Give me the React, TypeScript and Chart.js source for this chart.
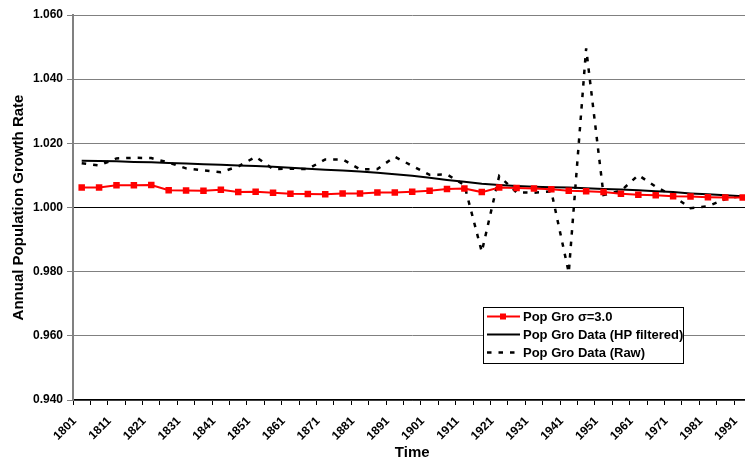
import React, { useEffect, useRef } from 'react';
import { Chart, registerables } from 'chart.js';

Chart.register(...registerables);

const years = [
  '1801', '1806', '1811', '1816', '1821', '1826', '1831', '1836', '1841', '1846',
  '1851', '1856', '1861', '1866', '1871', '1876', '1881', '1886', '1891', '1896',
  '1901', '1906', '1911', '1916', '1921', '1926', '1931', '1936', '1941', '1946',
  '1951', '1956', '1961', '1966', '1971', '1976', '1981', '1986', '1991',
];

const popGroSigma = [
  1.0062, 1.0062, 1.0069, 1.0069, 1.0070, 1.0054, 1.0053, 1.0052, 1.0055, 1.0048,
  1.0049, 1.0046, 1.0043, 1.0042, 1.0041, 1.0044, 1.0044, 1.0047, 1.0047, 1.0049,
  1.0052, 1.0058, 1.0059, 1.0048, 1.0062, 1.0061, 1.0059, 1.0057, 1.0052, 1.0051,
  1.0048, 1.0043, 1.0040, 1.0038, 1.0035, 1.0034, 1.0032, 1.0031, 1.0031,
];

const popGroHP = [
  1.0146, 1.0145, 1.0144, 1.0142, 1.0141, 1.0139, 1.0137, 1.0135, 1.0133, 1.0131,
  1.0129, 1.0127, 1.0124, 1.0121, 1.0118, 1.0115, 1.0112, 1.0108, 1.0104, 1.0099,
  1.0093, 1.0086, 1.0080, 1.0074, 1.0070, 1.0067, 1.0065, 1.0063, 1.0062, 1.0060,
  1.0058, 1.0056, 1.0054, 1.0051, 1.0048, 1.0044, 1.0041, 1.0038, 1.0035,
];

const popGroRaw = [
  1.0138, 1.0131, 1.0153, 1.0155, 1.0154, 1.0140, 1.0122, 1.0116, 1.0110, 1.0128,
  1.0158, 1.0120, 1.0121, 1.0120, 1.0150, 1.0150, 1.0119, 1.0120, 1.0158, 1.0130,
  1.0102, 1.0103, 1.0070, 0.9862, 1.0098, 1.0047, 1.0046, 1.0050, 0.9797, 1.0496,
  1.0039, 1.0052, 1.0101, 1.0065, 1.0036, 0.9998, 1.0004, 1.0026, 1.0037,
];

const seriesLabels = ['Pop Gro σ=3.0', 'Pop Gro Data (HP filtered)', 'Pop Gro Data (Raw)'];
const yMin = 0.94;
const yMax = 1.06;
const yStep = 0.02;

const FONT = "'Liberation Sans', Arial, sans-serif";

const boxLegend = {
  id: 'boxLegend',
  afterDatasetsDraw(chart: any) {
    const ctx = chart.ctx as CanvasRenderingContext2D;
    const bx = 483.5, by = 307.5, bw = 200, bh = 56;
    ctx.save();
    ctx.fillStyle = '#ffffff';
    ctx.fillRect(bx, by, bw, bh);
    ctx.strokeStyle = '#000000';
    ctx.lineWidth = 1;
    ctx.setLineDash([]);
    ctx.strokeRect(bx, by, bw, bh);
    chart.data.datasets.forEach((ds: any, i: number) => {
      const y = 316.5 + i * 18;
      ctx.strokeStyle = ds.borderColor;
      ctx.lineWidth = ds.borderWidth;
      ctx.setLineDash(ds.borderDash || []);
      ctx.beginPath();
      ctx.moveTo(487, y);
      ctx.lineTo(520, y);
      ctx.stroke();
      ctx.setLineDash([]);
      if (ds.pointRadius > 0) {
        ctx.fillStyle = ds.pointBackgroundColor;
        ctx.fillRect(500, y - 3, 6, 6);
      }
      ctx.fillStyle = '#000000';
      ctx.font = `bold 13px ${FONT}`;
      ctx.textBaseline = 'middle';
      ctx.textAlign = 'left';
      ctx.fillText(ds.label, 523, y + 0.5);
    });
    ctx.restore();
  },
};

export default function App() {
  const canvasRef = useRef<HTMLCanvasElement | null>(null);

  useEffect(() => {
    const canvas = canvasRef.current;
    if (!canvas) return;
    const chart = new Chart(canvas, {
      type: 'line',
      data: {
        labels: years,
        datasets: [
          {
            label: seriesLabels[0],
            data: popGroSigma,
            borderColor: '#ff0000',
            backgroundColor: '#ff0000',
            pointBackgroundColor: '#ff0000',
            pointBorderColor: '#ff0000',
            pointStyle: 'rect',
            pointRadius: 4.6,
            pointBorderWidth: 0,
            borderWidth: 2,
            tension: 0,
            fill: false,
          },
          {
            label: seriesLabels[1],
            data: popGroHP,
            borderColor: '#000000',
            backgroundColor: '#000000',
            pointRadius: 0,
            borderWidth: 2,
            tension: 0,
            fill: false,
          },
          {
            label: seriesLabels[2],
            data: popGroRaw,
            borderColor: '#000000',
            backgroundColor: '#000000',
            pointRadius: 0,
            borderWidth: 2.5,
            borderDash: [4.5, 7],
            tension: 0,
            fill: false,
          },
        ],
      },
      options: {
        responsive: false,
        animation: false,
        devicePixelRatio: 1,
        layout: { padding: { top: 15, right: 8.6, left: 0, bottom: 0 } },
        plugins: {
          legend: { display: false },
          tooltip: { enabled: false },
        },
        scales: {
          x: {
            type: 'category',
            offset: true,
            grid: {
              offset: true,
              drawOnChartArea: false,
              drawTicks: true,
              tickLength: 5,
              tickColor: '#000000',
              tickWidth: 1,
            },
            border: { display: true, color: '#000000', width: 1.5 },
            ticks: {
              autoSkip: false,
              minRotation: 45,
              maxRotation: 45,
              padding: 2,
              color: '#000000',
              font: { family: FONT, size: 12, weight: 'bold' },
              callback: (_v: any, i: number) => (i % 2 === 0 ? years[i] + '   ' : ''),
            },
            title: {
              display: true,
              text: 'Time',
              color: '#000000',
              font: { family: FONT, size: 15, weight: 'bold' },
              padding: { top: 0, bottom: 0 },
            },
            afterFit: (scale: any) => {
              scale.height = 62;
            },
          },
          y: {
            min: yMin,
            max: yMax,
            grid: {
              color: (c: any) =>
                c.tick && Math.abs(c.tick.value - 1) < 1e-9 ? '#000000' : '#808080',
              lineWidth: 1,
              drawTicks: true,
              tickLength: 6,
              tickColor: '#808080',
            },
            border: { display: true, color: '#808080', width: 2 },
            ticks: {
              stepSize: yStep,
              padding: 4,
              color: '#000000',
              font: { family: FONT, size: 12, weight: 'bold' },
              callback: (v: any) => Number(v).toFixed(3),
            },
            title: {
              display: true,
              text: 'Annual Population Growth Rate',
              color: '#000000',
              font: { family: FONT, size: 15, weight: 'bold' },
              padding: { top: 10, bottom: 0 },
            },
            afterFit: (scale: any) => {
              scale.width = 73;
            },
          },
        },
      },
      plugins: [boxLegend],
    } as any);
    return () => chart.destroy();
  }, []);

  return (
    <div
      style={{
        position: 'fixed',
        left: 0,
        top: 0,
        width: 745,
        height: 462,
        overflow: 'hidden',
        background: '#ffffff',
      }}
    >
      <canvas ref={canvasRef} width={760} height={462} style={{ display: 'block' }} />
    </div>
  );
}
